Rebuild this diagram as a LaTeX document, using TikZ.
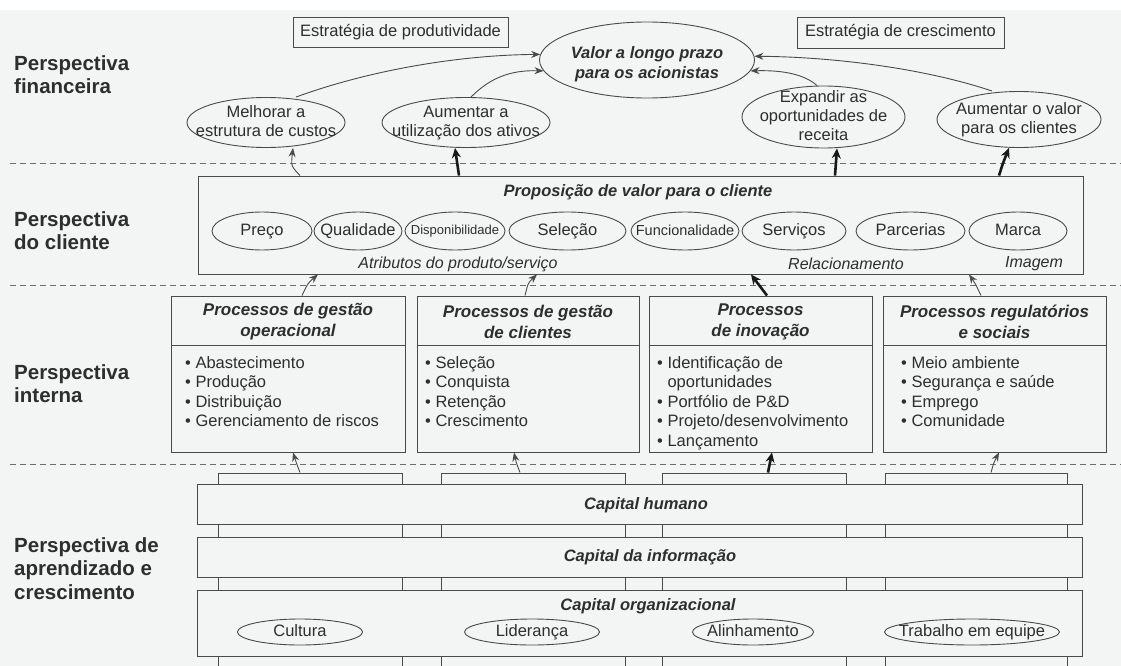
\documentclass[tikz,border=0pt]{standalone}
\usepackage{fontspec}
\setmainfont{Liberation Sans}
\usetikzlibrary{shapes.geometric,arrows.meta,calc}
\definecolor{txt}{HTML}{2E2E2E}
\definecolor{ln}{HTML}{4A4A4A}
\definecolor{bgc}{HTML}{F3F4F4}
\newcommand\myfs[2]{\fontsize{#1}{#2}\selectfont}
\newcommand\ctext[2][-0.3em]{\makebox[0pt]{\raisebox{#1}[0pt][0pt]{\begin{tabular}{@{}c@{}}#2\end{tabular}}}}
\tikzset{
  persp/.style={anchor=west, align=left, inner sep=0, text=txt, font=\myfs{20.5}{23.5}\bfseries},
  ell/.style={ellipse, draw=ln, line width=0.9pt, inner sep=0, text=txt, font=\myfs{16.5}{19}},
  sbox/.style={draw=ln, line width=0.9pt, inner sep=0, text=txt, font=\myfs{16.5}{19}},
  frame/.style={draw=ln, line width=0.9pt, inner sep=0},
  hdr/.style={align=center, inner sep=0, text=txt, font=\myfs{17}{21}\bfseries\itshape},
  bi/.style={inner sep=0, text=txt, font=\myfs{16.5}{19}\bfseries\itshape},
  itl/.style={inner sep=0, text=txt, font=\myfs{16}{19}\itshape},
  blist/.style={anchor=north west, align=left, inner sep=0, text=txt, font=\myfs{16.5}{19.5}},
  sepline/.style={draw=ln!80, line width=0.8pt, dash pattern=on 6pt off 4pt},
  thinarr/.style={draw=ln, line width=0.9pt, -{Stealth[length=9pt,width=7pt]}},
  thickarr/.style={draw=black!90, line width=2.6pt, -{Stealth[length=10pt,width=9pt]}},
}
\begin{document}
\begin{tikzpicture}[x=1pt,y=-1pt]
\fill[bgc] (0,0) rectangle (1121,666);
\fill[white] (0,0) rectangle (1121,10);
\useasboundingbox (0,0) rectangle (1121,666);

% perspective labels
\node[persp] (lf) at (14,74.5) {Perspectiva\\financeira};
\node[persp] (lc) at (14,230.5) {Perspectiva\\do cliente};
\node[persp] (li) at (14,383.5) {Perspectiva\\interna};
\node[persp] (la) at (14,568.5) {Perspectiva de\\aprendizado e\\crescimento};

% separators
\coordinate (s1l) at (10,163); \coordinate (s1r) at (1121,163);
\coordinate (s2l) at (10,285); \coordinate (s2r) at (1121,285);
\coordinate (s3l) at (10,464); \coordinate (s3r) at (1121,464);
\draw[sepline] (s1l) -- (s1r);
\draw[sepline] (s2l) -- (s2r);
\draw[sepline] (s3l) -- (s3r);

% financial perspective
\node[sbox, minimum width=215, minimum height=30] (ep) at (400.5,32) {Estratégia de produtividade};
\node[sbox, minimum width=207, minimum height=31] (ec) at (900.5,32.5) {Estratégia de crescimento};
\node[ell, minimum width=215, minimum height=76, font=\myfs{16.5}{20}\bfseries\itshape] (valor) at (647,60) {\ctext[-0.55em]{Valor a longo prazo\\para os acionistas}};
\node[ell, minimum width=158, minimum height=50] (melh) at (266,122.5) {\ctext{Melhorar a\\estrutura de custos}};
\node[ell, minimum width=168, minimum height=50] (aum) at (466,122.5) {\ctext{Aumentar a\\utilização dos ativos}};
\node[ell, minimum width=163, minimum height=62] (exp) at (823.5,117) {\ctext{Expandir as\\oportunidades de\\receita}};
\node[ell, minimum width=164, minimum height=56] (aumv) at (1019,119.5) {\ctext{Aumentar o valor\\para os clientes}};

\draw[thinarr] (melh.north -| 296,0) .. controls (370,70) and (460,55) .. (valor.177);
\draw[thinarr] (aum.north -| 471,0) .. controls (490,78) and (510,70) .. (valor.186);
\draw[thinarr] (exp.north -| 817,0) .. controls (805,75) and (785,70) .. (valor.-6);
\draw[thinarr] (aumv.north -| 992,0) .. controls (930,70) and (840,57) .. (valor.2);

% customer perspective
\node[frame, minimum width=885, minimum height=98] (cust) at (640.5,225) {};
\node[bi] (custt) at (638,192) {Proposição de valor para o cliente};
\node[ell, minimum width=100, minimum height=38] (preco) at (262,231) {\ctext{Preço}};
\node[ell, minimum width=88, minimum height=38] (qual) at (358,231) {\ctext{Qualidade}};
\node[ell, minimum width=100, minimum height=38, font=\myfs{13}{15}] (disp) at (455,231) {\ctext{Disponibilidade}};
\node[ell, minimum width=117, minimum height=38] (sel) at (567.5,231) {\ctext{Seleção}};
\node[ell, minimum width=108, minimum height=38, font=\myfs{14.5}{17}] (func) at (685,231) {\ctext{Funcionalidade}};
\node[ell, minimum width=104, minimum height=38] (serv) at (794,231) {\ctext{Serviços}};
\node[ell, minimum width=109, minimum height=38] (parc) at (910.5,231) {\ctext{Parcerias}};
\node[ell, minimum width=98, minimum height=38] (marca) at (1018,231) {\ctext{Marca}};
\node[itl] (attr) at (458,264) {Atributos do produto/serviço};
\node[itl] (rel) at (846,264) {Relacionamento};
\node[itl] (img) at (1034,264) {Imagem};

\draw[thinarr] (300,0 |- cust.north) .. controls (291,166) .. (melh.south -| 293,0);
\draw[thickarr] (459,0 |- cust.north) -- (aum.south -| 455,0);
\draw[thickarr] (835,0 |- cust.north) -- (exp.south -| 837,0);
\draw[thickarr] (999,0 |- cust.north) .. controls (1003,163) .. (aumv.south -| 1009,0);

% internal perspective
\node[frame, minimum width=234, minimum height=156] (p1) at (288,374) {};
\node[frame, minimum width=222, minimum height=156] (p2) at (528,374) {};
\node[frame, minimum width=223, minimum height=156] (p3) at (760.5,374) {};
\node[frame, minimum width=223, minimum height=156] (p4) at (994.5,374) {};
\foreach \p in {p1,p2,p3,p4}{
  \draw[draw=ln, line width=0.9pt] (\p.west |- 0,345) -- (\p.east |- 0,345);
}
\node[hdr] (h1) at (288,322) {Processos de gestão\\operacional};
\node[hdr] (h2) at (528,322) {Processos de gestão\\de clientes};
\node[hdr] (h3) at (760.5,322) {Processos\\de inovação};
\node[hdr] (h4) at (994.5,322) {Processos regulatórios\\e sociais};
\node[blist] (b1) at (185,356) {• Abastecimento\\• Produção\\• Distribuição\\• Gerenciamento de riscos};
\node[blist] (b2) at (425,356) {• Seleção\\• Conquista\\• Retenção\\• Crescimento};
\node[blist] (b3) at (657,356) {• Identificação de\\\phantom{• }oportunidades\\• Portfólio de P\&D\\• Projeto/desenvolvimento\\• Lançamento};
\node[blist] (b4) at (901,356) {• Meio ambiente\\• Segurança e saúde\\• Emprego\\• Comunidade};

\draw[thinarr] (302,0 |- p1.north) .. controls (308,283) .. (cust.south -| 318,0);
\draw[thinarr] (525,0 |- p2.north) .. controls (528,283) .. (cust.south -| 537,0);
\draw[thickarr] (767,0 |- p3.north) -- (cust.south -| 751,0);
\draw[thinarr] (981,0 |- p4.north) .. controls (975,283) .. (cust.south -| 969,0);

% learning and growth
\node[frame, minimum width=184, minimum height=200] (col1) at (310,573) {};
\node[frame, minimum width=184, minimum height=200] (col2) at (533,573) {};
\node[frame, minimum width=184, minimum height=200] (col3) at (754,573) {};
\node[frame, minimum width=182, minimum height=200] (col4) at (976,573) {};
\node[frame, fill=bgc, minimum width=885, minimum height=40] (hum) at (639.5,504) {};
\node[frame, fill=bgc, minimum width=885, minimum height=40] (inf) at (639.5,557) {};
\node[frame, fill=bgc, minimum width=885, minimum height=66] (org) at (639.5,623) {};
\node[bi] (humt) at (646,505) {Capital humano};
\node[bi] (inft) at (650,557) {Capital da informação};
\node[bi] (orgt) at (648,606) {Capital organizacional};
\node[ell, minimum width=125, minimum height=26] (cult) at (300,632) {\ctext{Cultura}};
\node[ell, minimum width=135, minimum height=26] (lid) at (532,632) {\ctext{Liderança}};
\node[ell, minimum width=121, minimum height=26] (alin) at (753,632) {\ctext{Alinhamento}};
\node[ell, minimum width=175, minimum height=26] (trab) at (972,632) {\ctext{Trabalho em equipe}};

\draw[thinarr] (300,0 |- col1.north) .. controls (296,462) .. (p1.south -| 293,0);
\draw[thinarr] (520,0 |- col2.north) .. controls (516,462) .. (p2.south -| 514,0);
\draw[thickarr] (768,0 |- col3.north) -- (p3.south -| 772,0);
\draw[thinarr] (991,0 |- col4.north) .. controls (994,462) .. (p4.south -| 999,0);
\end{tikzpicture}
\end{document}
